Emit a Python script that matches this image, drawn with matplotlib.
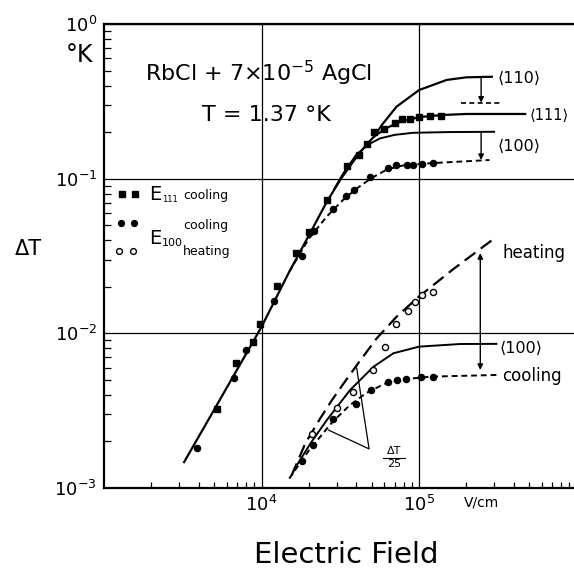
import matplotlib
matplotlib.use("Agg")
import matplotlib.pyplot as plt
from matplotlib.ticker import LogLocator, NullFormatter, FixedLocator, FixedFormatter

plt.rcParams['font.family'] = ['DejaVu Sans', 'Noto Sans']
plt.rcParams['mathtext.fontset'] = 'dejavusans'

# ---------------- data ----------------
# upper group: measured points
e111_cool_x = [5.2e3, 6.85e3, 8.87e3, 9.8e3, 1.26e4, 1.65e4, 2.0e4, 2.6e4, 3.48e4, 4.18e4,
               4.7e4, 5.2e4, 6.02e4, 7.03e4, 7.83e4, 8.77e4, 1.0e5, 1.17e5, 1.38e5]
e111_cool_y = [3.23e-3, 6.4e-3, 8.83e-3, 1.15e-2, 2.03e-2, 3.32e-2, 4.5e-2, 7.28e-2, 0.12, 0.142,
               0.167, 0.201, 0.209, 0.230, 0.243, 0.244, 0.249, 0.254, 0.256]

e100_cool_x = [3.88e3, 6.71e3, 8.0e3, 1.2e4, 1.8e4, 2.16e4, 2.86e4, 3.43e4, 3.88e4, 4.88e4,
               6.32e4, 7.1e4, 8.35e4, 9.2e4, 1.04e5, 1.22e5]
e100_cool_y = [1.81e-3, 5.14e-3, 7.84e-3, 1.63e-2, 3.16e-2, 4.6e-2, 6.37e-2, 7.73e-2, 8.45e-2, 0.102,
               0.118, 0.123, 0.123, 0.123, 0.124, 0.126]

# lower group (Delta T / 25): measured points
low_cool_x = [1.82e4, 2.13e4, 2.86e4, 3.98e4, 4.96e4, 6.38e4, 7.2e4, 8.23e4, 1.03e5, 1.22e5]
low_cool_y = [1.5e-3, 1.9e-3, 2.78e-3, 3.49e-3, 4.3e-3, 4.87e-3, 4.99e-3, 5.07e-3, 5.22e-3, 5.25e-3]

low_heat_x = [2.1e4, 3.03e4, 3.83e4, 5.08e4, 6.08e4, 7.1e4, 8.47e4, 9.44e4, 1.05e5, 1.23e5]
low_heat_y = [2.23e-3, 3.27e-3, 4.2e-3, 5.8e-3, 8.2e-3, 1.15e-2, 1.4e-2, 1.6e-2, 1.77e-2, 1.86e-2]

# curves
c111_x = [3.2e3, 5e3, 1e4, 1.5e4, 2e4, 2.6e4, 3.2e4, 3.8e4, 4.5e4, 5.2e4, 6.2e4, 7.5e4,
          1e5, 1.4e5, 2e5, 4.8e5]
c111_y = [1.45e-3, 3.2e-3, 1.1e-2, 2.5e-2, 4.3e-2, 7.1e-2, 0.1, 0.128, 0.16, 0.188, 0.212, 0.232,
          0.25, 0.258, 0.262, 0.262]

c110_x = [5.2e4, 5.8e4, 7.2e4, 1.0e5, 1.5e5, 2.0e5, 2.9e5]
c110_y = [0.188, 0.222, 0.292, 0.374, 0.435, 0.452, 0.456]

c110_cool_x = [1.86e5, 3.3e5]
c110_cool_y = [0.31, 0.31]

c100_x = [2.9e4, 3.3e4, 4.0e4, 4.8e4, 5.65e4, 7e4, 9.2e4, 1.5e5, 3.0e5]
c100_y = [0.086, 0.108, 0.143, 0.167, 0.182, 0.192, 0.198, 0.2, 0.201]

c100_cool_x = [1.5e4, 2.0e4, 2.6e4, 3.3e4, 4.0e4, 5.0e4, 6.3e4, 8e4, 1.2e5, 2.8e5]
c100_cool_y = [2.5e-2, 4.1e-2, 5.7e-2, 7.3e-2, 8.6e-2, 0.101, 0.115, 0.122, 0.126, 0.132]

low_heat_curve_x = [1.55e4, 1.9e4, 2.35e4, 2.8e4, 3.3e4, 4.2e4, 5.4e4, 7.2e4, 1.0e5, 1.65e5, 3.0e5]
low_heat_curve_y = [1.2e-3, 1.95e-3, 2.8e-3, 3.7e-3, 4.7e-3, 6.6e-3, 9.3e-3, 1.28e-2, 1.73e-2,
                    2.6e-2, 4.1e-2]

low_100_x = [1.6e4, 2.05e4, 2.6e4, 3.65e4, 5.14e4, 6.87e4, 1.0e5, 1.82e5, 3.1e5]
low_100_y = [1.3e-3, 1.95e-3, 2.75e-3, 4.3e-3, 6.08e-3, 7.43e-3, 8.2e-3, 8.53e-3, 8.55e-3]

low_cool_curve_x = [1.5e4, 2.0e4, 2.8e4, 3.6e4, 4.6e4, 6.0e4, 8e4, 1.2e5, 3.1e5]
low_cool_curve_y = [1.15e-3, 1.75e-3, 2.65e-3, 3.4e-3, 4.1e-3, 4.7e-3, 5.05e-3, 5.25e-3, 5.38e-3]

x_tick_values = [1e4, 1e5]
x_tick_labels = [r'$10^{4}$', r'$10^{5}$']
y_tick_values = [1e-3, 1e-2, 1e-1, 1e0]
y_tick_labels = [r'$10^{-3}$', r'$10^{-2}$', r'$10^{-1}$', r'$10^{0}$']

# ---------------- figure ----------------
W, H = 574, 569
fig = plt.figure(figsize=(W / 100, H / 100), dpi=100)
AX_L, AX_R, AX_T, AX_B = 104, 574, 24, 488
ax = fig.add_axes([AX_L / W, 1 - AX_B / H, (AX_R - AX_L) / W, (AX_B - AX_T) / H])
ax.set_xscale('log')
ax.set_yscale('log')
ax.set_xlim(1e3, 10 ** (3 + (AX_R - AX_L) / 157.5))
ax.set_ylim(1e-3, 1e0)

ax.xaxis.set_major_locator(FixedLocator(x_tick_values))
ax.xaxis.set_major_formatter(FixedFormatter(x_tick_labels))
ax.yaxis.set_major_locator(FixedLocator(y_tick_values))
ax.yaxis.set_major_formatter(FixedFormatter(y_tick_labels))
ax.xaxis.set_minor_locator(LogLocator(base=10, subs=range(2, 10), numticks=20))
ax.yaxis.set_minor_locator(LogLocator(base=10, subs=range(2, 10), numticks=20))
ax.xaxis.set_minor_formatter(NullFormatter())
ax.yaxis.set_minor_formatter(NullFormatter())
ax.tick_params(axis='x', which='minor', direction='in', length=4, width=0.9, top=False)
ax.tick_params(axis='x', which='major', direction='in', length=0, labelsize=13, pad=5)
ax.tick_params(axis='y', which='minor', direction='in', length=5, width=0.9, right=False)
ax.tick_params(axis='y', which='major', direction='in', length=0, labelsize=13, pad=5)
ax.grid(True, which='major', color='black', lw=0.9)
for s in ['left', 'bottom', 'top']:
    ax.spines[s].set_linewidth(1.6)
ax.spines['right'].set_visible(False)

k = 'black'
# curves
ax.plot(c111_x, c111_y, color=k, lw=1.6, solid_capstyle='butt')
ax.plot(c110_x, c110_y, color=k, lw=1.6)
ax.plot(c100_x, c100_y, color=k, lw=1.4)
ax.plot(c110_cool_x, c110_cool_y, color=k, lw=1.2, dashes=(3, 2))
ax.plot(c100_cool_x, c100_cool_y, color=k, lw=1.4, dashes=(3, 2))
ax.plot(low_heat_curve_x, low_heat_curve_y, color=k, lw=1.6, dashes=(6, 3))
ax.plot(low_100_x, low_100_y, color=k, lw=1.4)
ax.plot(low_cool_curve_x, low_cool_curve_y, color=k, lw=1.4, dashes=(3, 2))

# points
ax.plot(e111_cool_x, e111_cool_y, 's', color=k, ms=4.2, mec=k)
ax.plot(e100_cool_x, e100_cool_y, 'o', color=k, ms=4.4, mec=k)
ax.plot(low_cool_x, low_cool_y, 'o', color=k, ms=4.4, mec=k)
ax.plot(low_heat_x, low_heat_y, 'o', mfc='white', mec=k, mew=1.0, ms=4.4)

# arrows
arr = dict(arrowstyle='-|>', lw=1.0, color=k, mutation_scale=8, shrinkA=0, shrinkB=0)
ax.annotate('', xy=(2.48e5, 0.31), xytext=(2.48e5, 0.456), arrowprops=arr)
ax.annotate('', xy=(2.48e5, 0.132), xytext=(2.48e5, 0.2), arrowprops=arr)
arr2 = dict(arrowstyle='<|-|>', lw=1.0, color=k, mutation_scale=8, shrinkA=0, shrinkB=0)
ax.annotate('', xy=(2.45e5, 5.8e-3), xytext=(2.45e5, 3.3e-2), arrowprops=arr2)

# Delta T / 25 pointer lines
ax.plot([4.02e4, 4.82e4, 2.66e4], [5.97e-3, 1.79e-3, 2.37e-3], color=k, lw=0.9)


def ftxt(px, py, s, **kw):
    kw.setdefault('ha', 'center')
    kw.setdefault('va', 'center')
    fig.text(px / W, 1 - py / H, s, **kw)


def axpt(px, py):
    return (px - AX_L) / (AX_R - AX_L), (AX_B - py) / (AX_B - AX_T)


ftxt(28, 249, 'ΔT', fontsize=15)
ftxt(79, 55, '°K', fontsize=17)
ftxt(346, 555, 'Electric Field', fontsize=21)
ftxt(482, 503, 'V/cm', fontsize=10)
ftxt(259, 73, r'RbCl + 7×10$^{-5}$ AgCl', fontsize=16)
ftxt(266, 115, 'T = 1.37 °K', fontsize=16)

ftxt(498, 78, '⟨110⟩', fontsize=11.5, ha='left')
ftxt(569, 116, '⟨111⟩', fontsize=10.5, ha='right')
ftxt(498, 146, '⟨100⟩', fontsize=11.5, ha='left')
ftxt(502, 253, 'heating', fontsize=12, ha='left')
ftxt(500, 348, '⟨100⟩', fontsize=11.5, ha='left')
ftxt(502, 376, 'cooling', fontsize=12, ha='left')

ftxt(394, 451, 'ΔT', fontsize=8)
ftxt(394, 464, '25', fontsize=8)
bx0, by = axpt(383, 457.5)
bx1, _ = axpt(405, 457.5)
ax.plot([bx0, bx1], [by, by], color=k, lw=0.8, transform=ax.transAxes)

# legend
for (mx, my, mk, fc) in [(121.7, 194.3, 's', k), (135, 194.3, 's', k),
                         (120.7, 223.3, 'o', k), (134, 223.3, 'o', k),
                         (119.3, 250.7, 'o', 'white'), (133.3, 250.7, 'o', 'white')]:
    ax_x, ax_y = axpt(mx, my)
    ax.plot([ax_x], [ax_y], mk, mfc=fc, mec=k, ms=4.2, transform=ax.transAxes, clip_on=False)
ftxt(149, 194, 'E', fontsize=14, ha='left')
ftxt(162, 200, '111', fontsize=6, ha='left')
ftxt(183, 196, 'cooling', fontsize=9, ha='left')
ftxt(183, 226, 'cooling', fontsize=9, ha='left')
ftxt(149, 238, 'E', fontsize=14, ha='left')
ftxt(162, 243, '100', fontsize=8, ha='left')
ftxt(183, 251, 'heating', fontsize=9, ha='left')

fig.savefig('out.png', dpi=100)
